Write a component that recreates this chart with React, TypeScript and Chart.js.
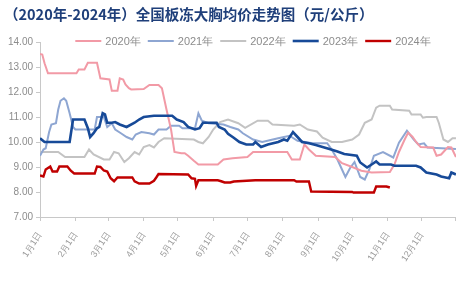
import React, { useEffect, useRef } from "react";
import { Chart, registerables } from "chart.js";

Chart.register(...registerables);

const titleText = "（2020年-2024年）全国板冻大胸均价走势图（元/公斤）";
const monthDays = [0, 31, 60, 91, 121, 152, 182, 213, 244, 274, 305, 335, 365];
const monthLabels = ["1月1日", "2月1日", "3月1日", "4月1日", "5月1日", "6月1日", "7月1日", "8月1日", "9月1日", "10月1日", "11月1日", "12月1日", ""];
const yTicks = [7, 8, 9, 10, 11, 12, 13, 14];
const seriesNames = ["2020年", "2021年", "2022年", "2023年", "2024年"];
const seriesColors = ["#f29aa6", "#8ea6d2", "#c3c3c3", "#174a98", "#c00000"];

const days2020 = [0, 2, 4, 7, 32, 34, 39, 42, 50, 53, 61, 63, 68, 70, 73, 75, 78, 80, 91, 96, 104, 107, 111, 115, 118, 124, 127, 130, 135, 139, 156, 161, 169, 182, 187, 217, 221, 228, 232, 236, 242, 259, 265, 274, 282, 291, 307, 311, 315, 320, 323, 327, 330, 334, 345, 348, 352, 358, 361, 365];
const price2020 = [13.52, 13.5, 13.15, 12.75, 12.75, 12.9, 12.9, 13.17, 13.17, 12.55, 12.5, 12.05, 12.05, 12.55, 12.5, 12.3, 12.15, 12.1, 12.12, 12.28, 12.28, 12.15, 11.3, 10.5, 9.6, 9.55, 9.55, 9.45, 9.25, 9.1, 9.1, 9.3, 9.35, 9.4, 9.6, 9.6, 9.3, 9.3, 9.9, 9.7, 9.45, 9.4, 9.15, 9.0, 8.85, 8.78, 8.8, 9.1, 9.6, 10.1, 10.37, 10.2, 10.0, 9.8, 9.78, 9.45, 9.5, 9.8, 9.78, 9.4];

const days2021 = [0, 3, 5, 8, 10, 14, 16, 18, 21, 23, 26, 29, 31, 48, 50, 56, 59, 63, 66, 71, 76, 81, 84, 89, 96, 100, 104, 111, 115, 122, 125, 136, 139, 142, 148, 161, 167, 174, 178, 187, 195, 209, 219, 226, 239, 252, 256, 261, 265, 268, 272, 276, 281, 285, 289, 293, 301, 310, 315, 322, 328, 332, 337, 340, 365];
const price2021 = [9.45, 9.7, 9.75, 10.4, 10.7, 10.75, 11.3, 11.65, 11.75, 11.65, 11.15, 10.6, 10.5, 10.5, 11.0, 11.0, 10.6, 10.75, 10.5, 10.35, 10.2, 10.1, 10.3, 10.4, 10.35, 10.3, 10.5, 10.5, 10.65, 10.65, 10.55, 10.55, 11.15, 10.85, 10.75, 10.7, 10.6, 10.5, 10.35, 10.1, 10.0, 10.15, 10.25, 10.05, 9.95, 9.95, 9.7, 9.3, 8.9, 8.6, 8.95, 9.2, 8.6, 8.5, 8.9, 9.45, 9.6, 9.38, 9.97, 10.45, 10.1, 9.9, 9.95, 9.78, 9.72];

const days2022 = [0, 16, 22, 39, 43, 47, 56, 61, 65, 69, 74, 78, 83, 87, 91, 96, 100, 104, 109, 135, 139, 143, 148, 152, 158, 165, 174, 180, 191, 200, 204, 223, 228, 235, 243, 248, 256, 265, 274, 280, 285, 291, 295, 298, 307, 309, 324, 326, 334, 336, 339, 348, 350, 354, 358, 362, 365];
const price2022 = [9.6, 9.6, 9.4, 9.4, 9.7, 9.5, 9.3, 9.3, 9.6, 9.55, 9.2, 9.35, 9.6, 9.5, 9.8, 9.88, 9.78, 10.0, 10.15, 10.1, 10.0, 9.95, 10.2, 10.5, 10.8, 10.9, 10.75, 10.57, 10.85, 10.85, 10.7, 10.65, 10.7, 10.5, 10.42, 10.17, 10.0, 10.0, 10.1, 10.3, 10.77, 10.9, 11.37, 11.45, 11.45, 11.3, 11.25, 11.1, 11.1, 10.97, 11.0, 11.0, 10.76, 10.1, 10.0, 10.15, 10.15];

const days2023 = [0, 4, 26, 29, 39, 42, 44, 47, 50, 52, 55, 57, 59, 63, 66, 70, 76, 83, 87, 91, 100, 116, 120, 126, 130, 136, 140, 143, 155, 157, 162, 165, 170, 175, 181, 187, 189, 194, 200, 209, 214, 217, 222, 226, 230, 236, 242, 248, 254, 261, 267, 278, 281, 287, 291, 295, 298, 308, 311, 330, 334, 339, 348, 352, 359, 361, 365];
const price2023 = [10.15, 10.0, 10.0, 10.9, 10.9, 10.55, 10.2, 10.35, 10.55, 10.6, 11.15, 11.1, 10.77, 10.77, 10.8, 10.7, 10.6, 10.77, 10.9, 11.0, 11.05, 11.05, 10.9, 10.8, 10.6, 10.5, 10.55, 10.77, 10.77, 10.6, 10.5, 10.33, 10.17, 10.0, 9.9, 9.9, 10.0, 9.8, 9.9, 10.0, 10.1, 10.05, 10.4, 10.2, 10.0, 9.95, 9.88, 9.8, 9.72, 9.62, 9.52, 9.45, 9.18, 8.98, 9.1, 9.22, 9.1, 9.1, 9.05, 9.05, 8.98, 8.78, 8.7, 8.62, 8.55, 8.78, 8.7];

const days2024 = [0, 3, 5, 9, 11, 15, 17, 24, 27, 30, 48, 50, 53, 56, 59, 62, 65, 68, 81, 83, 87, 96, 100, 102, 104, 130, 133, 136, 137, 139, 156, 159, 162, 167, 170, 189, 223, 225, 236, 238, 274, 275, 293, 295, 304, 307];
const price2024 = [8.66, 8.62, 8.9, 9.02, 8.82, 8.82, 9.02, 9.02, 8.85, 8.74, 8.74, 9.02, 9.0, 8.86, 8.82, 8.55, 8.43, 8.58, 8.58, 8.43, 8.34, 8.34, 8.45, 8.58, 8.72, 8.7, 8.55, 8.53, 8.24, 8.47, 8.47, 8.43, 8.38, 8.38, 8.42, 8.47, 8.47, 8.42, 8.42, 8.02, 8.0, 7.98, 7.98, 8.22, 8.22, 8.18];

const seriesDays = [days2020, days2021, days2022, days2023, days2024];
const seriesPrices = [price2020, price2021, price2022, price2023, price2024];
const seriesWidths = [2, 2, 2, 2.6, 2.4];
const seriesOrder = [2, 3, 4, 1, 0];

const overlayPlugin = {
  id: "overlay",
  afterDraw(chart: any) {
    const ctx = chart.ctx;
    const { left, right, top } = chart.chartArea;
    ctx.save();
    ctx.font = 'bold 14.5px "Noto Sans CJK SC", sans-serif';
    ctx.fillStyle = "#1f3f7a";
    ctx.textBaseline = "middle";
    ctx.textAlign = "left";
    ctx.fillText(titleText, 4, 14);
    ctx.font = '11px "Liberation Sans", Arial, sans-serif';
    const lineLen = 26;
    const gap = 4;
    const itemGap = 7;
    const widths = chart.data.datasets.map((ds: any) => lineLen + gap + ctx.measureText(ds.label).width);
    const total = widths.reduce((a: number, b: number) => a + b, 0) + itemGap * (widths.length - 1);
    let x = (left + right) / 2 - total / 2 + 5;
    const y = top - 1;
    chart.data.datasets.forEach((ds: any, i: number) => {
      ctx.strokeStyle = ds.borderColor;
      ctx.lineWidth = ds.borderWidth;
      ctx.beginPath();
      ctx.moveTo(x, y);
      ctx.lineTo(x + lineLen, y);
      ctx.stroke();
      ctx.fillStyle = "#8c8c8c";
      ctx.fillText(ds.label, x + lineLen + gap, y + 0.5);
      x += widths[i] + itemGap;
    });
    ctx.restore();
  },
};

export default function App() {
  const ref = useRef<HTMLCanvasElement>(null);
  useEffect(() => {
    if (!ref.current) return;
    const chart = new Chart(ref.current, {
      type: "line",
      data: {
        datasets: seriesNames.map((name, i) => ({
          label: name,
          data: seriesDays[i].map((d, j) => ({ x: d, y: seriesPrices[i][j] })),
          borderColor: seriesColors[i],
          backgroundColor: seriesColors[i],
          borderWidth: seriesWidths[i],
          pointRadius: 0,
          tension: 0,
          fill: false,
          order: seriesOrder[i],
        })),
      },
      options: {
        animation: false,
        responsive: false,
        maintainAspectRatio: false,
        layout: { padding: { left: 0, right: 14, top: 42, bottom: 0 } },
        plugins: {
          legend: { display: false },
          tooltip: { enabled: false },
          title: { display: false },
        },
        scales: {
          x: {
            type: "linear",
            min: 0,
            max: 365,
            afterBuildTicks: (scale: any) => {
              scale.ticks = monthDays.map((v) => ({ value: v }));
            },
            afterFit: (scale: any) => {
              scale.height = 68;
            },
            ticks: {
              autoSkip: false,
              minRotation: 57,
              maxRotation: 57,
              color: "#9a9a9a",
              font: { size: 9, family: '"Liberation Sans", Arial, sans-serif' },
              padding: 9,
              callback: (v: any) => {
                const idx = monthDays.indexOf(Number(v));
                return idx >= 0 ? monthLabels[idx] : "";
              },
            },
            grid: { drawOnChartArea: false, drawTicks: true, tickLength: 4, color: "#c8c8c8" },
            border: { display: true, color: "#c8c8c8" },
          },
          y: {
            min: 7,
            max: 14,
            afterBuildTicks: (scale: any) => {
              scale.ticks = yTicks.map((v) => ({ value: v }));
            },
            afterFit: (scale: any) => {
              scale.width = 40;
            },
            ticks: {
              color: "#8c8c8c",
              font: { size: 10, family: '"Liberation Sans", Arial, sans-serif' },
              padding: 3,
              callback: (v: any) => Number(v).toFixed(2),
            },
            grid: { drawOnChartArea: false, drawTicks: true, tickLength: 4, color: "#c8c8c8" },
            border: { display: true, color: "#c8c8c8" },
          },
        },
      },
      plugins: [overlayPlugin],
    });
    return () => chart.destroy();
  }, []);
  return (
    <div style={{ position: "fixed", left: 0, top: 0, width: 474, height: 285, background: "#fff" }}>
      <canvas ref={ref} width={474} height={285} style={{ width: 474, height: 285 }} />
    </div>
  );
}
